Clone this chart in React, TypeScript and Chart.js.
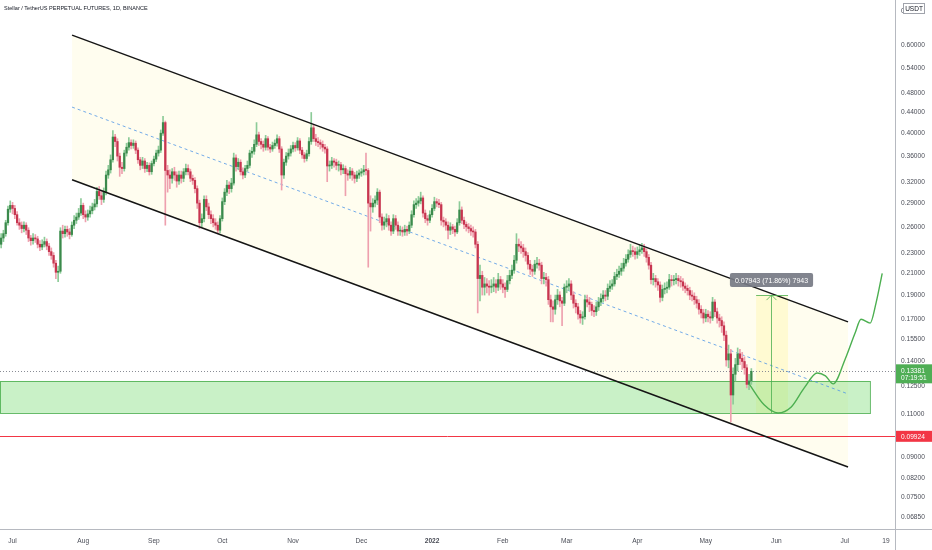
import React, { useEffect, useRef } from "react";
import { Chart, registerables } from "chart.js";

Chart.register(...registerables);

// ---------- data ----------
const TITLE = "Stellar / TetherUS PERPETUAL FUTURES, 1D, BINANCE";
const START_DAY = -5; // day index relative to 1 Jul 2021
const FIRST_OPEN = 0.24;

const closes = [
  0.247, 0.252, 0.265, 0.282, 0.287, 0.283, 0.275, 0.265, 0.262, 0.258,
  0.262, 0.256, 0.247, 0.244, 0.247, 0.246, 0.240, 0.237, 0.240, 0.243,
  0.238, 0.232, 0.228, 0.220, 0.211, 0.212, 0.255, 0.252, 0.257, 0.254,
  0.251, 0.262, 0.268, 0.272, 0.277, 0.287, 0.275, 0.272, 0.276, 0.280,
  0.285, 0.289, 0.306, 0.300, 0.295, 0.305, 0.330, 0.338, 0.354, 0.393,
  0.385, 0.360, 0.342, 0.340, 0.365, 0.375, 0.383, 0.378, 0.382, 0.370,
  0.354, 0.345, 0.352, 0.340, 0.345, 0.335, 0.348, 0.355, 0.365, 0.370,
  0.400, 0.420, 0.337, 0.330, 0.325, 0.335, 0.330, 0.321, 0.330, 0.325,
  0.335, 0.340, 0.335, 0.325, 0.322, 0.310, 0.290, 0.265, 0.270, 0.295,
  0.285, 0.275, 0.270, 0.265, 0.262, 0.256, 0.270, 0.292, 0.305, 0.315,
  0.310, 0.318, 0.357, 0.343, 0.350, 0.335, 0.330, 0.340, 0.345, 0.365,
  0.368, 0.380, 0.397, 0.385, 0.380, 0.375, 0.390, 0.375, 0.372, 0.378,
  0.382, 0.390, 0.372, 0.330, 0.350, 0.360, 0.365, 0.372, 0.378, 0.374,
  0.386, 0.370, 0.362, 0.356, 0.364, 0.385, 0.410, 0.390, 0.385, 0.383,
  0.380, 0.375, 0.372, 0.344, 0.345, 0.352, 0.350, 0.345, 0.346, 0.338,
  0.340, 0.332, 0.330, 0.336, 0.330, 0.325, 0.330, 0.333, 0.335, 0.338,
  0.337, 0.290, 0.285, 0.290, 0.294, 0.305, 0.272, 0.262, 0.266, 0.270,
  0.262, 0.255, 0.270, 0.262, 0.255, 0.256, 0.254, 0.257, 0.255, 0.262,
  0.275, 0.288, 0.290, 0.293, 0.297, 0.277, 0.270, 0.268, 0.275, 0.283,
  0.292, 0.290, 0.288, 0.268, 0.266, 0.262, 0.256, 0.260, 0.257, 0.254,
  0.265, 0.281, 0.268, 0.263, 0.260, 0.258, 0.255, 0.254, 0.240, 0.205,
  0.208, 0.197, 0.200, 0.198, 0.197, 0.198, 0.200, 0.197, 0.204, 0.200,
  0.197, 0.195, 0.203, 0.208, 0.213, 0.223, 0.240, 0.238, 0.236, 0.232,
  0.228, 0.219, 0.214, 0.212, 0.219, 0.220, 0.218, 0.205, 0.206, 0.204,
  0.186, 0.180, 0.178, 0.186, 0.190, 0.185, 0.183, 0.197, 0.198, 0.200,
  0.190, 0.183, 0.180, 0.174, 0.171, 0.172, 0.186, 0.184, 0.182, 0.177,
  0.176, 0.180, 0.184, 0.187, 0.190, 0.189, 0.196, 0.198, 0.200, 0.207,
  0.209, 0.212, 0.215, 0.220, 0.224, 0.229, 0.233, 0.232, 0.229, 0.232,
  0.234, 0.236, 0.232, 0.226, 0.218, 0.204, 0.205, 0.202, 0.199, 0.188,
  0.195, 0.196, 0.197, 0.204, 0.203, 0.204, 0.205, 0.203, 0.202, 0.198,
  0.196, 0.194, 0.190, 0.189, 0.186, 0.183, 0.178, 0.175, 0.171, 0.174,
  0.172, 0.171, 0.184, 0.176, 0.171, 0.169, 0.165, 0.158, 0.141, 0.145,
  0.120, 0.132, 0.138, 0.145, 0.142, 0.140, 0.136, 0.126, 0.128, 0.13381,
];

const highs = [
  0.252, 0.256, 0.268, 0.286, 0.293, 0.291, 0.287, 0.279, 0.270, 0.266,
  0.266, 0.265, 0.259, 0.250, 0.252, 0.251, 0.249, 0.244, 0.245, 0.248,
  0.246, 0.241, 0.236, 0.231, 0.223, 0.217, 0.259, 0.262, 0.261, 0.261,
  0.258, 0.266, 0.274, 0.277, 0.283, 0.296, 0.290, 0.280, 0.281, 0.286,
  0.290, 0.295, 0.312, 0.313, 0.306, 0.311, 0.336, 0.345, 0.362, 0.405,
  0.398, 0.390, 0.365, 0.350, 0.370, 0.382, 0.392, 0.388, 0.388, 0.386,
  0.374, 0.358, 0.358, 0.356, 0.350, 0.349, 0.352, 0.360, 0.370, 0.377,
  0.406, 0.432, 0.423, 0.345, 0.338, 0.340, 0.342, 0.335, 0.336, 0.336,
  0.340, 0.347, 0.346, 0.339, 0.330, 0.326, 0.314, 0.294, 0.276, 0.300,
  0.300, 0.290, 0.280, 0.275, 0.270, 0.266, 0.274, 0.297, 0.310, 0.322,
  0.320, 0.325, 0.365, 0.362, 0.356, 0.354, 0.341, 0.345, 0.352, 0.370,
  0.375, 0.388, 0.420, 0.402, 0.390, 0.386, 0.396, 0.394, 0.380, 0.384,
  0.388, 0.397, 0.394, 0.376, 0.355, 0.366, 0.372, 0.378, 0.384, 0.383,
  0.392, 0.390, 0.375, 0.366, 0.370, 0.392, 0.440, 0.415, 0.398, 0.392,
  0.388, 0.386, 0.380, 0.376, 0.352, 0.358, 0.356, 0.355, 0.352, 0.350,
  0.346, 0.344, 0.338, 0.342, 0.340, 0.334, 0.336, 0.338, 0.340, 0.345,
  0.365, 0.340, 0.300, 0.296, 0.300, 0.310, 0.308, 0.276, 0.272, 0.276,
  0.274, 0.266, 0.275, 0.274, 0.266, 0.261, 0.260, 0.262, 0.261, 0.266,
  0.280, 0.293, 0.296, 0.299, 0.305, 0.300, 0.281, 0.274, 0.280, 0.288,
  0.298, 0.296, 0.295, 0.291, 0.272, 0.270, 0.266, 0.265, 0.263, 0.261,
  0.270, 0.292, 0.285, 0.272, 0.266, 0.264, 0.262, 0.260, 0.257, 0.243,
  0.218, 0.212, 0.206, 0.205, 0.203, 0.204, 0.206, 0.204, 0.210, 0.207,
  0.204, 0.201, 0.208, 0.213, 0.218, 0.228, 0.252, 0.246, 0.243, 0.240,
  0.236, 0.231, 0.223, 0.218, 0.223, 0.226, 0.224, 0.221, 0.211, 0.210,
  0.207, 0.190, 0.185, 0.190, 0.195, 0.193, 0.188, 0.200, 0.203, 0.205,
  0.203, 0.193, 0.186, 0.183, 0.177, 0.176, 0.190, 0.190, 0.188, 0.184,
  0.181, 0.184, 0.188, 0.191, 0.194, 0.194, 0.200, 0.203, 0.204, 0.211,
  0.214, 0.217, 0.220, 0.225, 0.229, 0.234, 0.240, 0.238, 0.236, 0.237,
  0.240, 0.241, 0.240, 0.235, 0.229, 0.221, 0.210, 0.208, 0.205, 0.202,
  0.199, 0.201, 0.202, 0.209, 0.208, 0.208, 0.210, 0.208, 0.207, 0.205,
  0.201, 0.199, 0.197, 0.194, 0.192, 0.189, 0.186, 0.181, 0.178, 0.178,
  0.177, 0.176, 0.188, 0.186, 0.179, 0.174, 0.172, 0.168, 0.161, 0.151,
  0.148, 0.136, 0.142, 0.149, 0.148, 0.146, 0.143, 0.138, 0.132, 0.1355,
];

const lows = [
  0.236, 0.243, 0.249, 0.262, 0.278, 0.276, 0.270, 0.262, 0.257, 0.253,
  0.254, 0.251, 0.243, 0.239, 0.240, 0.242, 0.236, 0.233, 0.234, 0.237,
  0.234, 0.228, 0.224, 0.216, 0.205, 0.202, 0.210, 0.247, 0.248, 0.249,
  0.246, 0.249, 0.258, 0.264, 0.269, 0.274, 0.270, 0.266, 0.268, 0.272,
  0.276, 0.281, 0.285, 0.295, 0.288, 0.291, 0.301, 0.325, 0.333, 0.350,
  0.376, 0.352, 0.328, 0.332, 0.336, 0.360, 0.370, 0.372, 0.373, 0.364,
  0.348, 0.338, 0.340, 0.334, 0.335, 0.330, 0.331, 0.344, 0.351, 0.360,
  0.366, 0.396, 0.262, 0.305, 0.310, 0.318, 0.322, 0.312, 0.316, 0.318,
  0.320, 0.330, 0.330, 0.320, 0.316, 0.304, 0.283, 0.258, 0.260, 0.266,
  0.280, 0.270, 0.264, 0.260, 0.257, 0.252, 0.253, 0.267, 0.288, 0.300,
  0.303, 0.305, 0.315, 0.336, 0.338, 0.330, 0.324, 0.326, 0.336, 0.341,
  0.358, 0.363, 0.376, 0.378, 0.372, 0.368, 0.370, 0.370, 0.366, 0.368,
  0.373, 0.377, 0.366, 0.308, 0.325, 0.345, 0.355, 0.360, 0.367, 0.368,
  0.370, 0.364, 0.356, 0.350, 0.352, 0.360, 0.380, 0.385, 0.378, 0.376,
  0.372, 0.368, 0.365, 0.320, 0.336, 0.340, 0.342, 0.338, 0.336, 0.330,
  0.332, 0.300, 0.322, 0.325, 0.322, 0.318, 0.320, 0.325, 0.328, 0.330,
  0.330, 0.216, 0.255, 0.278, 0.285, 0.288, 0.265, 0.256, 0.257, 0.260,
  0.256, 0.250, 0.252, 0.257, 0.250, 0.250, 0.249, 0.250, 0.250, 0.252,
  0.259, 0.272, 0.283, 0.286, 0.289, 0.272, 0.265, 0.262, 0.265, 0.272,
  0.280, 0.285, 0.284, 0.262, 0.260, 0.256, 0.246, 0.251, 0.252, 0.249,
  0.252, 0.262, 0.264, 0.258, 0.255, 0.253, 0.250, 0.248, 0.236, 0.175,
  0.185, 0.190, 0.190, 0.192, 0.190, 0.192, 0.193, 0.192, 0.194, 0.195,
  0.192, 0.188, 0.193, 0.200, 0.205, 0.210, 0.220, 0.232, 0.230, 0.226,
  0.222, 0.214, 0.209, 0.207, 0.209, 0.215, 0.213, 0.200, 0.200, 0.198,
  0.182, 0.168, 0.168, 0.174, 0.182, 0.180, 0.165, 0.181, 0.192, 0.194,
  0.186, 0.179, 0.175, 0.170, 0.167, 0.166, 0.170, 0.180, 0.176, 0.173,
  0.172, 0.173, 0.177, 0.181, 0.184, 0.185, 0.186, 0.193, 0.195, 0.198,
  0.204, 0.206, 0.208, 0.212, 0.217, 0.221, 0.226, 0.227, 0.224, 0.225,
  0.228, 0.230, 0.227, 0.221, 0.214, 0.200, 0.199, 0.197, 0.194, 0.184,
  0.185, 0.191, 0.192, 0.195, 0.198, 0.199, 0.200, 0.198, 0.197, 0.194,
  0.192, 0.190, 0.186, 0.185, 0.182, 0.179, 0.174, 0.171, 0.167, 0.168,
  0.168, 0.167, 0.169, 0.172, 0.167, 0.164, 0.160, 0.154, 0.137, 0.136,
  0.106, 0.115, 0.128, 0.134, 0.138, 0.135, 0.132, 0.124, 0.123, 0.126,
];

// x axis (days since 1 Jul 2021)
const X_MIN = -5.5;
const X_MAX = 387;
const xTickDays = [0, 31, 62, 92, 123, 153, 184, 215, 243, 274, 304, 335, 365, 383];
const xTickLabels = ["Jul", "Aug", "Sep", "Oct", "Nov", "Dec", "2022", "Feb", "Mar", "Apr", "May", "Jun", "Jul", "19"];

// y axis (log)
const Y_MIN = 0.0648;
const Y_MAX = 0.738;
const yTicks = [0.7, 0.6, 0.54, 0.48, 0.44, 0.4, 0.36, 0.32, 0.29, 0.26, 0.23, 0.21, 0.19, 0.17, 0.155, 0.14, 0.125, 0.11, 0.09, 0.082, 0.075, 0.0685];

// drawings
const channelUpper = [[26.1, 0.628], [366.4, 0.168]];
const channelLower = [[26.1, 0.323], [366.4, 0.0862]];
const channelMid = [[26.1, 0.451], [366.4, 0.1206]];
const demandZoneDays = [X_MIN, 376];
const demandZonePrices = [0.1105, 0.128];
const supportPrice = 0.09924;
const lastPrice = 0.13381;
const lastPriceTimer = "07:19:51";
const measureDays = [326.1, 340.1];
const measureArrowDay = 332.7;
const measurePrices = [0.11053, 0.18996];
const measureLabel = "0.07943 (71.86%) 7943";
const projDays = [323.0, 329.6, 335.7, 341.5, 347.2, 352.9, 356.5, 359.9, 365.0, 369.5, 372.1, 376.1, 378.7, 381.4];
const projPrices = [0.1263, 0.1147, 0.1105, 0.1136, 0.124, 0.1328, 0.131, 0.1263, 0.141, 0.1596, 0.17, 0.167, 0.1833, 0.21];

// ---------- style ----------
const FONT = '"Liberation Sans", Arial, sans-serif';
const UP = "#3b8a4c";
const DOWN = "#c7354f";
const UP_WICK = "#8ccb98";
const DOWN_WICK = "#eea0ae";
const AXIS = "#b6b9c0";
const TEXT = "#4a4d57";

export default function App() {
  const ref = useRef<HTMLCanvasElement>(null);

  useEffect(() => {
    const opens = closes.map((c, i) => (i === 0 ? FIRST_OPEN : closes[i - 1]));
    const days = closes.map((_, i) => START_DAY + i);
    const isUp = closes.map((c, i) => c >= opens[i]);

    const overlay = {
      id: "overlay",
      beforeDatasetsDraw(chart: any) {
        const { ctx, chartArea: a, scales } = chart;
        const px = (d: number) => scales.x.getPixelForValue(d);
        const py = (v: number) => scales.y.getPixelForValue(v);
        ctx.save();
        ctx.beginPath();
        ctx.rect(a.left, a.top, a.right - a.left, a.bottom - a.top);
        ctx.clip();
        // channel fill
        ctx.fillStyle = "rgba(255, 236, 120, 0.12)";
        ctx.beginPath();
        ctx.moveTo(px(channelUpper[0][0]), py(channelUpper[0][1]));
        ctx.lineTo(px(channelUpper[1][0]), py(channelUpper[1][1]));
        ctx.lineTo(px(channelLower[1][0]), py(channelLower[1][1]));
        ctx.lineTo(px(channelLower[0][0]), py(channelLower[0][1]));
        ctx.closePath();
        ctx.fill();
        // measure rect
        const mx0 = px(measureDays[0]);
        const mx1 = px(measureDays[1]);
        const my0 = py(measurePrices[1]);
        const my1 = py(measurePrices[0]);
        ctx.fillStyle = "rgba(255, 235, 90, 0.2)";
        ctx.fillRect(mx0, my0, mx1 - mx0, my1 - my0);
        // demand zone
        const zx0 = px(demandZoneDays[0]);
        const zx1 = px(demandZoneDays[1]);
        const zy0 = py(demandZonePrices[1]);
        const zy1 = py(demandZonePrices[0]);
        ctx.fillStyle = "rgba(100, 215, 95, 0.35)";
        ctx.fillRect(zx0, zy0, zx1 - zx0, zy1 - zy0);
        ctx.strokeStyle = "rgba(76, 175, 80, 0.85)";
        ctx.lineWidth = 1;
        ctx.strokeRect(zx0 + 0.5, Math.round(zy0) + 0.5, zx1 - zx0, Math.round(zy1 - zy0));
        // support line
        ctx.strokeStyle = "#f23645";
        ctx.beginPath();
        const sy = Math.round(py(supportPrice)) + 0.5;
        ctx.moveTo(a.left, sy);
        ctx.lineTo(a.right, sy);
        ctx.stroke();
        // last price dotted
        ctx.strokeStyle = "#8a8d96";
        ctx.setLineDash([1, 2]);
        const ly = Math.round(py(lastPrice)) + 0.5;
        ctx.beginPath();
        ctx.moveTo(a.left, ly);
        ctx.lineTo(a.right, ly);
        ctx.stroke();
        ctx.setLineDash([]);
        // mid line
        ctx.strokeStyle = "rgba(80, 150, 230, 0.8)";
        ctx.setLineDash([3, 3]);
        ctx.beginPath();
        ctx.moveTo(px(channelMid[0][0]), py(channelMid[0][1]));
        ctx.lineTo(px(channelMid[1][0]), py(channelMid[1][1]));
        ctx.stroke();
        ctx.setLineDash([]);
        ctx.restore();
      },
      afterDatasetsDraw(chart: any) {
        const { ctx, chartArea: a, scales } = chart;
        const px = (d: number) => scales.x.getPixelForValue(d);
        const py = (v: number) => scales.y.getPixelForValue(v);
        ctx.save();
        ctx.beginPath();
        ctx.rect(a.left, a.top, a.right - a.left, a.bottom - a.top);
        ctx.clip();
        // channel lines
        ctx.strokeStyle = "#151515";
        ctx.lineWidth = 1.5;
        for (const seg of [channelUpper, channelLower]) {
          ctx.beginPath();
          ctx.moveTo(px(seg[0][0]), py(seg[0][1]));
          ctx.lineTo(px(seg[1][0]), py(seg[1][1]));
          ctx.stroke();
        }
        // measure lines
        const mx0 = px(measureDays[0]);
        const mx1 = px(measureDays[1]);
        const ax = Math.round(px(measureArrowDay)) + 0.5;
        const top = py(measurePrices[1]);
        const bot = py(measurePrices[0]);
        ctx.strokeStyle = "rgba(76, 175, 80, 0.8)";
        ctx.lineWidth = 1;
        ctx.beginPath();
        ctx.moveTo(mx0, Math.round(top) + 0.5);
        ctx.lineTo(mx1, Math.round(top) + 0.5);
        ctx.moveTo(ax, bot);
        ctx.lineTo(ax, top);
        ctx.moveTo(ax - 5, top + 5);
        ctx.lineTo(ax, top);
        ctx.lineTo(ax + 5, top + 5);
        ctx.stroke();
        ctx.restore();

        // measure label
        ctx.save();
        ctx.font = `7px ${FONT}`;
        const tw = ctx.measureText(measureLabel).width;
        const bw = tw + 10;
        const bh = 14;
        const bx = ax - bw / 2;
        const by = top - 8 - bh;
        ctx.fillStyle = "rgba(118, 121, 132, 0.92)";
        ctx.beginPath();
        (ctx as any).roundRect ? (ctx as any).roundRect(bx, by, bw, bh, 2) : ctx.rect(bx, by, bw, bh);
        ctx.fill();
        ctx.fillStyle = "#ffffff";
        ctx.textBaseline = "middle";
        ctx.textAlign = "center";
        ctx.fillText(measureLabel, ax, by + bh / 2 + 0.5);
        ctx.restore();
      },
      afterDraw(chart: any) {
        const { ctx, chartArea: a, scales, width, height } = chart;
        const py = (v: number) => scales.y.getPixelForValue(v);
        ctx.save();
        // axis line extensions
        ctx.strokeStyle = AXIS;
        ctx.lineWidth = 1;
        ctx.beginPath();
        ctx.moveTo(Math.round(a.right) + 0.5, 0);
        ctx.lineTo(Math.round(a.right) + 0.5, height);
        ctx.moveTo(a.right, Math.round(a.bottom) + 0.5);
        ctx.lineTo(width, Math.round(a.bottom) + 0.5);
        ctx.stroke();

        // title
        ctx.font = `10px ${FONT}`;
        const tW = ctx.measureText(TITLE).width;
        const fs = (10 * 144) / tW;
        ctx.font = `${fs.toFixed(2)}px ${FONT}`;
        ctx.fillStyle = "#131722";
        ctx.textBaseline = "middle";
        ctx.textAlign = "left";
        ctx.fillText(TITLE, 4, 8);

        // USDT box
        ctx.font = `6.5px ${FONT}`;
        ctx.fillStyle = "#ffffff";
        ctx.fillRect(903, 3, 22, 11);
        ctx.strokeStyle = "#a0a3ab";
        ctx.strokeRect(903.5, 3.5, 21, 10);
        ctx.fillStyle = "#131722";
        ctx.textAlign = "center";
        ctx.fillText("USDT", 914, 9);

        // last price label
        const lx = a.right + 1;
        const ly = py(lastPrice);
        ctx.fillStyle = "#4fae55";
        ctx.fillRect(lx, ly - 7, width - lx, 19);
        ctx.fillStyle = "#ffffff";
        ctx.textAlign = "left";
        ctx.font = `6.6px ${FONT}`;
        ctx.fillText(lastPrice.toFixed(5), a.right + 6, ly - 0.5);
        ctx.fillText(lastPriceTimer, a.right + 6, ly + 7);

        // support label
        const sy = py(supportPrice);
        ctx.fillStyle = "#f23645";
        ctx.fillRect(lx, sy - 5.5, width - lx, 11);
        ctx.fillStyle = "#ffffff";
        ctx.fillText(supportPrice.toFixed(5), a.right + 6, sy + 0.5);
        ctx.restore();
      },
    };

    const chart = new Chart(ref.current as HTMLCanvasElement, {
      type: "bar",
      data: {
        datasets: [
          {
            type: "line",
            label: "projection",
            data: projDays.map((d, i) => ({ x: d, y: projPrices[i] })),
            borderColor: "#4caf50",
            borderWidth: 1.4,
            pointRadius: 0,
            cubicInterpolationMode: "monotone",
            order: 0,
          } as any,
          {
            label: "wicks",
            data: days.map((d, i) => ({ x: d, y: [lows[i], highs[i]] })),
            backgroundColor: isUp.map((u) => (u ? UP_WICK : DOWN_WICK)),
            barThickness: 1,
            grouped: false,
            order: 2,
          } as any,
          {
            label: "bodies",
            data: days.map((d, i) => ({ x: d, y: [opens[i], closes[i]] })),
            backgroundColor: isUp.map((u) => (u ? UP : DOWN)),
            barThickness: 1.6,
            minBarLength: 1,
            grouped: false,
            order: 1,
          } as any,
        ],
      },
      options: {
        responsive: false,
        animation: false,
        layout: { padding: 0 },
        plugins: { legend: { display: false }, tooltip: { enabled: false } },
        scales: {
          x: {
            type: "linear",
            min: X_MIN,
            max: X_MAX,
            offset: false,
            grid: { display: false, drawTicks: false },
            border: { display: true, color: AXIS, width: 1 },
            afterBuildTicks: (s: any) => {
              s.ticks = xTickDays.map((v) => ({ value: v }));
            },
            afterFit: (s: any) => {
              s.height = 21;
              s.paddingLeft = 0;
              s.paddingRight = 0;
              s.paddingTop = 0;
              s.paddingBottom = 0;
            },
            ticks: {
              autoSkip: false,
              maxRotation: 0,
              padding: 8,
              color: TEXT,
              font: (c: any) => ({
                family: FONT,
                size: 6.6,
                weight: c.tick && c.tick.value === 184 ? "bold" : "normal",
              }),
              callback: (_v: any, i: number) => xTickLabels[i],
            },
          },
          y: {
            type: "logarithmic",
            position: "right",
            min: Y_MIN,
            max: Y_MAX,
            grid: { display: false, drawTicks: false },
            border: { display: true, color: AXIS, width: 1 },
            afterBuildTicks: (s: any) => {
              s.ticks = yTicks.map((v) => ({ value: v }));
            },
            afterFit: (s: any) => {
              s.width = 37;
              s.paddingTop = 0;
              s.paddingBottom = 0;
              s.paddingLeft = 0;
              s.paddingRight = 0;
            },
            ticks: {
              padding: 6,
              color: TEXT,
              font: { family: FONT, size: 6.6 },
              callback: (v: any) => Number(v).toFixed(5),
            },
          },
        },
      } as any,
      plugins: [overlay],
    });
    return () => chart.destroy();
  }, []);

  return (
    <div style={{ position: "fixed", left: 0, top: 0, width: 932, height: 550, background: "#ffffff" }}>
      <canvas ref={ref} width={932} height={550} style={{ display: "block" }} />
    </div>
  );
}
